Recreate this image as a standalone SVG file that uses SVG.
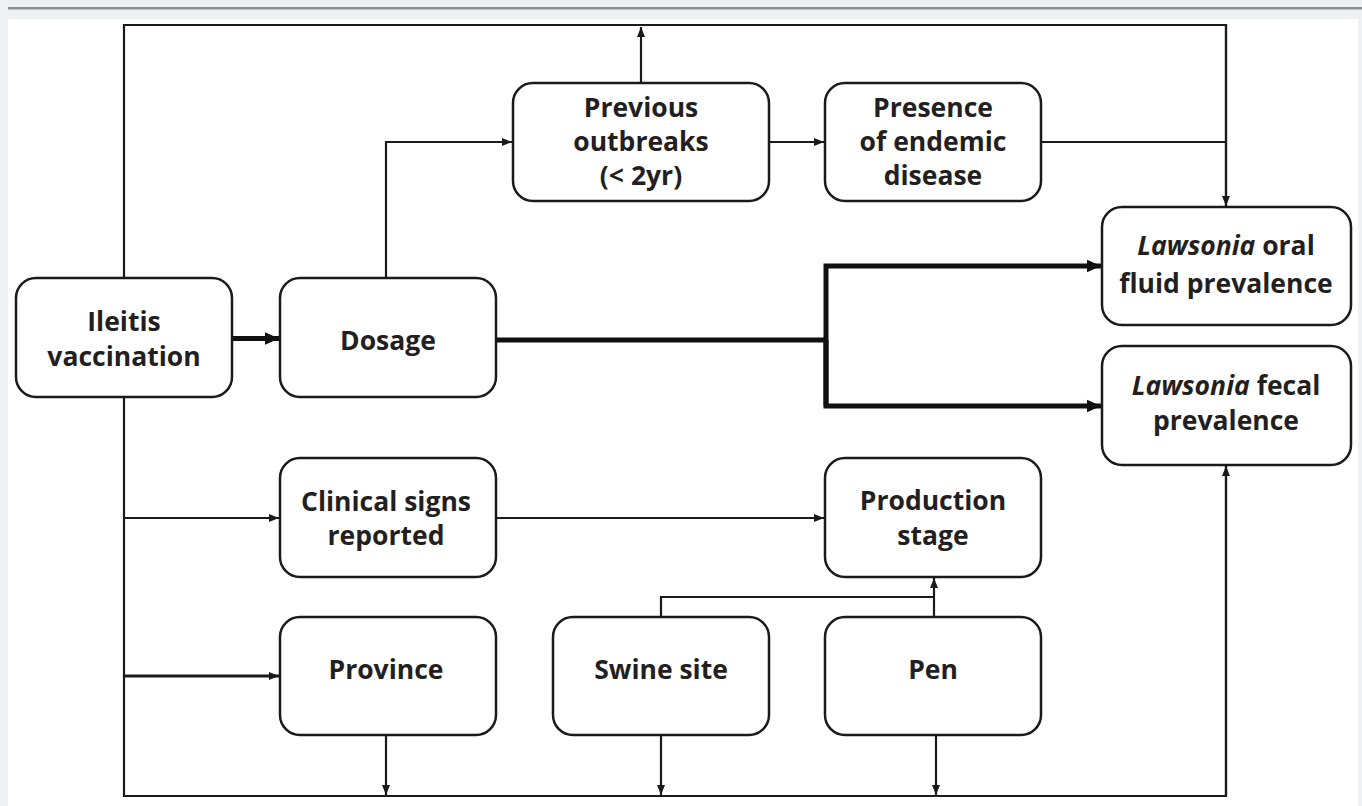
<svg xmlns="http://www.w3.org/2000/svg" width="1362" height="806" viewBox="0 0 1362 806">
<style>
.bg{fill:#eff0f2}
.panel{fill:#ffffff}
.box{fill:#ffffff;stroke:#1a1a1a;stroke-width:2.5}
.ln{fill:none;stroke:#1a1a1a;stroke-width:2.2}
.thk{fill:none;stroke:#111;stroke-width:5}
text{font-family:"Open Sans","Liberation Sans",sans-serif;font-weight:700;font-size:26.5px;fill:#231f20;text-anchor:middle}
.it{font-style:italic}
</style>
<defs>
<marker id="a" viewBox="0 0 10 10" refX="10" refY="5" markerWidth="11" markerHeight="10" markerUnits="userSpaceOnUse" orient="auto">
<path d="M0,1 L10,5 L0,9 Z" fill="#1a1a1a"/>
</marker>
<marker id="b" viewBox="0 0 10 10" refX="10" refY="5" markerWidth="14" markerHeight="14" markerUnits="userSpaceOnUse" orient="auto">
<path d="M0,0.5 L10,5 L0,9.5 Z" fill="#111"/>
</marker>
</defs>
<rect class="bg" x="0" y="0" width="1362" height="806"/>
<rect x="8" y="7" width="1354" height="2.5" fill="#8a8c8e"/>
<rect class="panel" x="8" y="19" width="1350" height="787"/>

<g id="connectors">
<path class="ln" d="M124,278 V25 H1226 V206"/>
<path class="ln" marker-end="url(#a)" d="M1226,25 V206"/>
<path class="ln" d="M124,397 V796 H1226 V466"/>
<path class="ln" marker-end="url(#a)" d="M1226,796 V466"/>
<path class="thk" marker-end="url(#b)" d="M232,338.5 H279"/>
<path class="ln" marker-end="url(#a)" d="M386,278 V142 H512"/>
<path class="ln" marker-end="url(#a)" d="M769,142 H824"/>
<path class="ln" marker-end="url(#a)" d="M641,83 V27"/>
<path class="ln" d="M1041,142 H1226"/>
<path class="thk" d="M496,340 H826"/>
<path class="thk" marker-end="url(#b)" d="M826,406 V266 H1101"/>
<path class="thk" marker-end="url(#b)" d="M826,340 V406 H1101"/>
<path class="ln" marker-end="url(#a)" d="M124,518 H279"/>
<path class="ln" marker-end="url(#a)" style="stroke-width:2.8" d="M124,676 H279"/>
<path class="ln" marker-end="url(#a)" d="M496,518 H824"/>
<path class="ln" d="M661,617 V597 H934"/>
<path class="ln" marker-end="url(#a)" d="M934,617 V578"/>
<path class="ln" marker-end="url(#a)" d="M386,735 V795"/>
<path class="ln" marker-end="url(#a)" d="M661,735 V795"/>
<path class="ln" marker-end="url(#a)" d="M936,735 V795"/>
</g>

<g id="ileitis">
<rect class="box" x="16" y="278" width="216" height="119" rx="20"/>
<text x="124" y="331">Ileitis</text>
<text x="124" y="366">vaccination</text>
</g>
<g id="dosage">
<rect class="box" x="280" y="278" width="216" height="119" rx="20"/>
<text x="388" y="350">Dosage</text>
</g>
<g id="previous">
<rect class="box" x="513" y="83" width="256" height="118" rx="20"/>
<text x="641" y="117">Previous</text>
<text x="641" y="151">outbreaks</text>
<text x="641" y="185">(&lt; 2yr)</text>
</g>
<g id="presence">
<rect class="box" x="825" y="83" width="216" height="118" rx="20"/>
<text x="933" y="117">Presence</text>
<text x="933" y="151">of endemic</text>
<text x="933" y="185">disease</text>
</g>
<g id="oral">
<rect class="box" x="1102" y="207" width="249" height="118" rx="20"/>
<text x="1226" y="255"><tspan class="it">Lawsonia</tspan> oral</text>
<text x="1226" y="293">fluid prevalence</text>
</g>
<g id="fecal">
<rect class="box" x="1102" y="346" width="249" height="119" rx="20"/>
<text x="1226" y="395"><tspan class="it">Lawsonia</tspan> fecal</text>
<text x="1226" y="430">prevalence</text>
</g>
<g id="clinical">
<rect class="box" x="280" y="458" width="216" height="119" rx="20"/>
<text x="386" y="511">Clinical signs</text>
<text x="386" y="545">reported</text>
</g>
<g id="production">
<rect class="box" x="825" y="458" width="216" height="119" rx="20"/>
<text x="933" y="510">Production</text>
<text x="933" y="545">stage</text>
</g>
<g id="province">
<rect class="box" x="280" y="617" width="216" height="118" rx="20"/>
<text x="386" y="679">Province</text>
</g>
<g id="swine">
<rect class="box" x="553" y="617" width="216" height="118" rx="20"/>
<text x="661" y="679">Swine site</text>
</g>
<g id="pen">
<rect class="box" x="825" y="617" width="216" height="118" rx="20"/>
<text x="933" y="679">Pen</text>
</g>
</svg>
